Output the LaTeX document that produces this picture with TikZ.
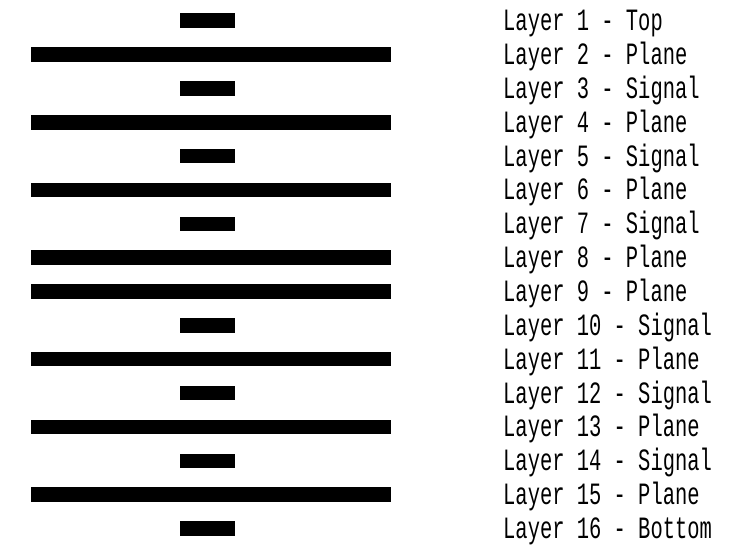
\documentclass[tikz,border=0pt]{standalone}
\usepackage{fontspec}
\newfontfamily\cadfont[FakeStretch=0.66]{Liberation Mono}
\begin{document}
\begin{tikzpicture}[x=1pt,y=-1pt,
  shortbar/.style={fill=black,inner sep=0pt,minimum width=55pt,minimum height=14.5pt,xshift=-3.5pt},
  longbar/.style={fill=black,inner sep=0pt,minimum width=360pt,minimum height=14.5pt},
  lbl/.style={anchor=base west,inner sep=0pt,font=\cadfont\fontsize{31}{31}\selectfont}]
\useasboundingbox (0,0) rectangle (730,549);
\foreach \i/\t/\n in {1/short/Top,2/long/Plane,3/short/Signal,4/long/Plane,5/short/Signal,6/long/Plane,7/short/Signal,8/long/Plane,9/long/Plane,10/short/Signal,11/long/Plane,12/short/Signal,13/long/Plane,14/short/Signal,15/long/Plane,16/short/Bottom}{
  \pgfmathsetmacro{\yy}{20.7+(\i-1)*33.85}
  \node[\t bar] (b\i) at (211,\yy) {};
  \node[lbl] (t\i) at (503,\yy+10) {Layer \i\ - \n};
}
\end{tikzpicture}
\end{document}
